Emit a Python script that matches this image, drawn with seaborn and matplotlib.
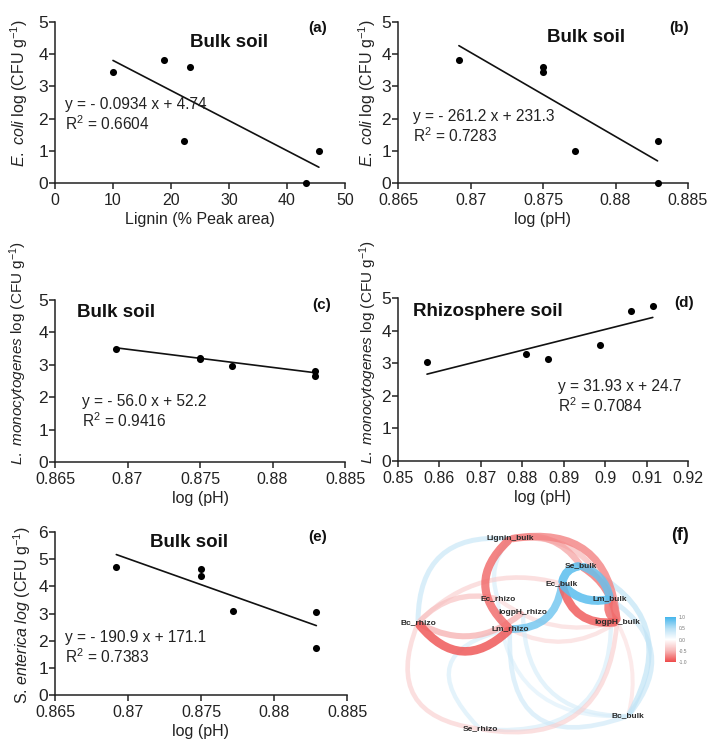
import numpy as np
import pandas as pd
import seaborn as sns
import matplotlib
matplotlib.use("Agg")
import matplotlib.pyplot as plt
from matplotlib.patches import FancyArrowPatch
from matplotlib.colors import LinearSegmentedColormap, Normalize

# ---------------- data ----------------
lignin_a = [10.0, 18.8, 23.3, 22.2, 43.2, 45.5]
ecoli_a = [3.45, 3.83, 3.60, 1.30, 0.0, 0.98]

ph_bulk = [0.8692, 0.8750, 0.8750, 0.8772, 0.8829, 0.8829]
ecoli_b = [3.83, 3.60, 3.45, 0.98, 1.30, 0.0]
lm_c = [3.50, 3.20, 3.17, 2.95, 2.82, 2.65]
se_e = [4.70, 4.65, 4.38, 3.10, 3.05, 1.72]

ph_rhizo = [0.8570, 0.8808, 0.8862, 0.8988, 0.9062, 0.9115]
lm_d = [3.05, 3.27, 3.12, 3.55, 4.60, 4.75]

slopes = [-0.0934, -261.2, -56.0, 31.93, -190.9]
intercepts = [4.74, 231.3, 52.2, -24.7, 171.1]
eq_labels = ["y = - 0.0934 x + 4.74", "y = - 261.2 x + 231.3", "y = - 56.0 x + 52.2",
             "y = 31.93 x + 24.7", "y = - 190.9 x + 171.1"]
r2_labels = ["0.6604", "0.7283", "0.9416", "0.7084", "0.7383"]
titles = ["Bulk soil", "Bulk soil", "Bulk soil", "Rhizosphere soil", "Bulk soil"]
panel_tags = ["(a)", "(b)", "(c)", "(d)", "(e)", "(f)"]

ticks_lignin = [0, 10, 20, 30, 40, 50]
ticks_phb = [0.865, 0.87, 0.875, 0.88, 0.885]
ticks_phr = [0.85, 0.86, 0.87, 0.88, 0.89, 0.9, 0.91, 0.92]

# network (panel f)
net_nodes = ["Lignin_bulk", "Se_bulk", "Ec_bulk", "Lm_bulk", "Ec_rhizo", "logpH_rhizo",
             "Bc_rhizo", "logpH_bulk", "Lm_rhizo", "Bc_bulk", "Se_rhizo"]
net_src = ["Bc_rhizo", "Lignin_bulk", "Lignin_bulk", "Lignin_bulk", "Ec_bulk", "Lm_bulk", "Se_bulk",
           "Se_bulk", "Ec_bulk", "Ec_bulk", "Ec_bulk", "Lignin_bulk", "Lignin_bulk", "Bc_rhizo",
           "Se_rhizo", "Se_rhizo", "Lm_rhizo", "Lm_bulk", "Se_bulk", "Lm_rhizo", "Ec_rhizo",
           "logpH_rhizo", "Bc_bulk", "Se_rhizo", "Bc_rhizo", "Lignin_bulk", "Bc_rhizo",
           "Bc_rhizo", "Ec_rhizo"]
net_dst = ["Lm_rhizo", "Lm_rhizo", "logpH_bulk", "Se_bulk", "logpH_bulk", "logpH_bulk", "logpH_bulk",
           "Lm_bulk", "Lm_bulk", "Se_bulk", "Lm_rhizo", "Bc_rhizo", "Ec_rhizo", "Se_rhizo",
           "logpH_bulk", "Lm_bulk", "Bc_bulk", "Bc_bulk", "Bc_bulk", "logpH_bulk", "logpH_bulk",
           "Bc_bulk", "logpH_bulk", "Lm_rhizo", "logpH_rhizo", "Lm_bulk", "Ec_bulk",
           "Ec_rhizo", "Bc_bulk"]
net_r = [-0.92, -0.85, -0.75, -0.6, -0.9, -0.85, -0.8,
         0.85, 0.9, 0.9, 0.8, 0.4, 0.3, -0.35,
         -0.35, 0.3, 0.35, 0.4, 0.45, -0.3, -0.3,
         0.3, -0.25, 0.3, -0.55, -0.5, -0.35,
         -0.45, 0.25]

# ---------------- layout / style ----------------
W, H = 714, 749
sns.set_theme(style="ticks")
plt.rcParams["font.family"] = ["Liberation Sans", "DejaVu Sans"]
plt.rcParams["mathtext.fontset"] = "custom"
plt.rcParams["mathtext.rm"] = "Liberation Sans"
plt.rcParams["mathtext.it"] = "Liberation Sans:italic"
plt.rcParams["mathtext.bf"] = "Liberation Sans:bold"

fig = plt.figure(figsize=(W / 100, H / 100), dpi=100)
fig.patch.set_facecolor("white")


def px_axes(l, r, t, b):
    return fig.add_axes([l / W, 1 - b / H, (r - l) / W, (b - t) / H])


boxes = [(55, 345, 22, 183), (398, 688, 22, 183), (55, 345, 300, 462),
         (398, 688, 298, 461), (55, 347, 532, 695)]
xs = [lignin_a, ph_bulk, ph_bulk, ph_rhizo, ph_bulk]
ys = [ecoli_a, ecoli_b, lm_c, lm_d, se_e]
xlims = [(0, 50), (0.865, 0.885), (0.865, 0.885), (0.85, 0.92), (0.865, 0.885)]
ylims = [(0, 5), (0, 5), (0, 5), (0, 5), (0, 6)]
xticks = [ticks_lignin, ticks_phb, ticks_phb, ticks_phr, ticks_phb]
xlabels = ["Lignin (% Peak area)", "log (pH)", "log (pH)", "log (pH)", "log (pH)"]
ylabels = [r"$\mathit{E.\ coli}$ log (CFU g$^{\mathregular{-1}}$)",
           r"$\mathit{E.\ coli}$ log (CFU g$^{\mathregular{-1}}$)",
           r"$\mathit{L.\ monocytogenes}$ log (CFU g$^{\mathregular{-1}}$)",
           r"$\mathit{L.\ monocytogenes}$ log (CFU g$^{\mathregular{-1}}$)",
           r"S. $\mathit{enterica\ log}$ (CFU g$^{\mathregular{-1}}$)"]
ylabel_sizes = [11.5, 11.5, 11, 11, 11.5]
ylabel_coords = [(-0.085, 0.56), (-0.07, 0.56), (-0.09, 0.67), (-0.065, 0.67), (-0.075, 0.49)]
# text positions in axes fraction
title_pos = [(0.60, 0.87), (0.65, 0.905), (0.21, 0.925), (0.31, 0.915), (0.46, 0.935)]
tag_pos = [(0.905, 0.96), (0.97, 0.96), (0.92, 0.97), (0.985, 0.97), (0.90, 0.97)]
eq_pos = [(0.035, 0.42), (0.052, 0.35), (0.093, 0.31), (0.552, 0.39), (0.035, 0.29)]

for i in range(5):
    ax = px_axes(*boxes[i])
    df = pd.DataFrame({"x": xs[i], "y": ys[i]})
    x0, x1 = min(xs[i]), max(xs[i])
    line = pd.DataFrame({"x": [x0, x1],
                         "y": [slopes[i] * x0 + intercepts[i], slopes[i] * x1 + intercepts[i]]})
    sns.lineplot(data=line, x="x", y="y", ax=ax, color="#111111", lw=1.2)
    sns.scatterplot(data=df, x="x", y="y", ax=ax, color="#000000", s=26,
                    edgecolor="#000000", linewidth=0, zorder=5, clip_on=False)
    ax.set_xlim(*xlims[i])
    ax.set_ylim(*ylims[i])
    ax.set_xticks(xticks[i])
    ax.set_xticklabels([f"{v:g}" for v in xticks[i]])
    ax.set_yticks(range(ylims[i][1] + 1))
    ax.tick_params(axis="both", length=4, width=1.1, color="#222222",
                   labelcolor="#222222")
    ax.tick_params(axis="x", labelsize=11.5, pad=3)
    ax.tick_params(axis="y", labelsize=12.5, pad=1)
    for s in ["top", "right"]:
        ax.spines[s].set_visible(False)
    for s in ["left", "bottom"]:
        ax.spines[s].set_linewidth(1.1)
        ax.spines[s].set_color("#222222")
    ax.set_xlabel(xlabels[i], fontsize=11.5, color="#222222", labelpad=3)
    ax.set_ylabel(ylabels[i], fontsize=ylabel_sizes[i], color="#222222")
    ax.yaxis.set_label_coords(*ylabel_coords[i])
    ax.set_facecolor("white")
    ax.text(*title_pos[i], titles[i], transform=ax.transAxes, ha="center", va="center",
            fontsize=13.5, fontweight="bold", color="#111111")
    ax.text(*tag_pos[i], panel_tags[i], transform=ax.transAxes, ha="center", va="center",
            fontsize=11, fontweight="bold", color="#111111")
    ax.text(eq_pos[i][0], eq_pos[i][1], eq_labels[i] + "\n" + "R$^{\mathregular{2}}$ = " + r2_labels[i],
            transform=ax.transAxes, ha="left", va="center", fontsize=11.2,
            linespacing=1.15, color="#222222")

# ---------------- panel (f): correlation network ----------------
node_xy = {"Lignin_bulk": (510, 539), "Se_bulk": (581, 566), "Ec_bulk": (562, 584),
           "Lm_bulk": (610, 599), "Ec_rhizo": (498, 599), "logpH_rhizo": (523, 612),
           "Bc_rhizo": (418, 623), "logpH_bulk": (617, 622), "Lm_rhizo": (510, 629),
           "Bc_bulk": (628, 716), "Se_rhizo": (480, 729)}
edge_rad = [0.55, 0.55, -0.55, -0.35, 0.45, 0.4, -0.25,
            -0.3, 0.3, -0.4, -0.45, 0.55, 0.3, 0.65,
            0.55, 0.6, 0.75, -0.55, -0.55, 0.3, 0.25,
            0.5, 0.2, -0.9, 0.35, -0.4, -0.3,
            -0.3, 0.5]

axf = fig.add_axes([385 / W, 0, (W - 385) / W, 224 / H])
axf.set_xlim(385, W)
axf.set_ylim(749, 525)
axf.axis("off")

cmap = LinearSegmentedColormap.from_list("corr", ["#EE4B4B", "#F7B9B9", "#FFFFFF", "#B8E0F5", "#45B6EC"])
norm = Normalize(-1, 1)

order = np.argsort(np.abs(net_r))
for k in order:
    a, b, r = net_src[k], net_dst[k], net_r[k]
    col = cmap(norm(r))
    patch = FancyArrowPatch(node_xy[a], node_xy[b], connectionstyle=f"arc3,rad={edge_rad[k]}",
                            arrowstyle="-", lw=1.6 + 5.0 * abs(r), color=col,
                            alpha=0.5 + 0.4 * abs(r), zorder=2 + abs(r), capstyle="round")
    axf.add_patch(patch)

for n in net_nodes:
    x, y = node_xy[n]
    axf.text(x, y, n, ha="center", va="center", fontsize=6, fontweight="bold",
             color="#2a2a2a", zorder=10)

axf.text(680, 536, panel_tags[5], ha="center", va="center", fontsize=13, fontweight="bold",
         color="#111111", zorder=10)

cax = fig.add_axes([665 / W, 1 - 662 / H, 11 / W, 45 / H])
sm = plt.cm.ScalarMappable(norm=norm, cmap=cmap)
cb = fig.colorbar(sm, cax=cax, ticks=[1.0, 0.5, 0.0, -0.5, -1.0])
cb.outline.set_visible(False)
cb.ax.tick_params(labelsize=3.5, length=0, pad=2, labelcolor="#777777")
cb.ax.set_yticklabels(["1.0", "0.5", "0.0", "-0.5", "-1.0"])

fig.savefig("out.png", dpi=100, facecolor="white")
